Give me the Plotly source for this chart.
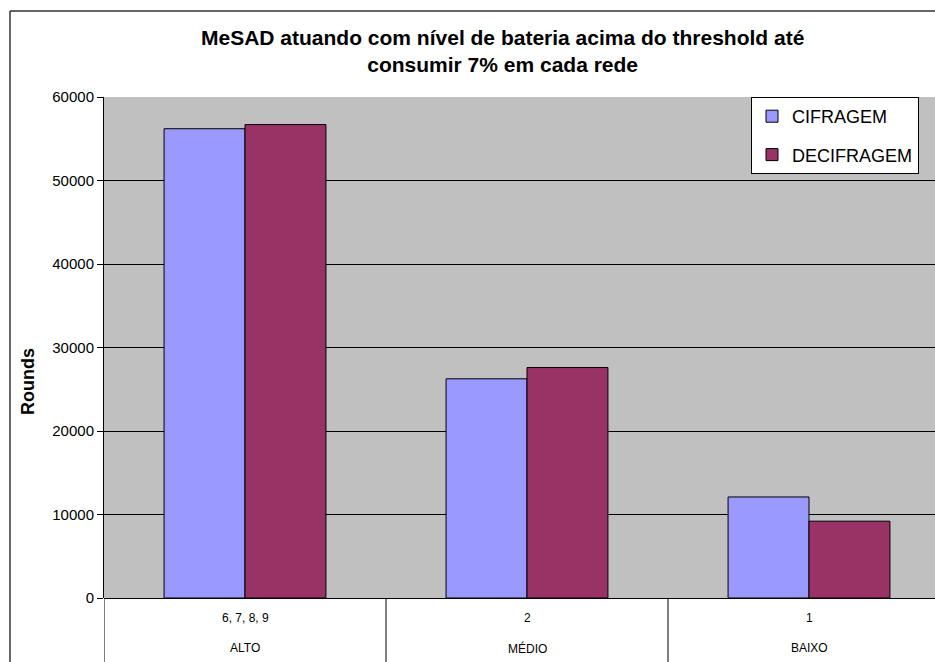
import plotly.graph_objects as go

# Battery level groups and the networks in each one
niveis = ["ALTO", "MÉDIO", "BAIXO"]
redes = ["6, 7, 8, 9", "2", "1"]

# Rounds reached per operation
cifragem = [56200, 26250, 12100]
decifragem = [56700, 27600, 9200]

y_ticks = [0, 10000, 20000, 30000, 40000, 50000, 60000]

W, H = 935, 662
L, T, B = 104, 97, 64
plot_w = W - L
plot_h = H - T - B

def px_x(px):
    return (px - L) / plot_w

def px_y(py):
    return (H - B - py) / plot_h

pos = list(range(len(niveis)))
font_family = "Liberation Sans, Arial, sans-serif"

fig = go.Figure()
fig.add_trace(go.Bar(
    x=pos, y=cifragem, name="CIFRAGEM", legendgroup="c",
    marker=dict(color="#9999FF", line=dict(color="#000000", width=1)),
))
fig.add_trace(go.Bar(
    x=pos, y=decifragem, name="DECIFRAGEM", legendgroup="d",
    marker=dict(color="#993366", line=dict(color="#000000", width=1)),
))

# Category separators and the outer chart frame
shapes = []
for i in range(len(niveis) + 1):
    shapes.append(dict(type="line", xref="x", yref="paper",
                       x0=i - 0.5, x1=i - 0.5, y0=0, y1=px_y(H + 2),
                       line=dict(color="#000000", width=1)))
shapes.append(dict(type="line", xref="paper", yref="paper",
                   x0=px_x(10), x1=px_x(10), y0=px_y(11), y1=px_y(H + 2),
                   line=dict(color="#333333", width=1.5)))
shapes.append(dict(type="line", xref="paper", yref="paper",
                   x0=px_x(10), x1=px_x(W + 2), y0=px_y(11), y1=px_y(11),
                   line=dict(color="#333333", width=1.5)))

annotations = []
for i, (rede, nivel) in enumerate(zip(redes, niveis)):
    annotations.append(dict(x=i, y=px_y(618), xref="x", yref="paper", text=rede,
                            xanchor="center", yanchor="middle",
                            showarrow=False, font=dict(size=12, color="#000000")))
    annotations.append(dict(x=i, y=px_y(648), xref="x", yref="paper", text=nivel,
                            xanchor="center", yanchor="middle",
                            showarrow=False, font=dict(size=12, color="#000000")))
annotations.append(dict(x=px_x(28), y=px_y(382), xref="paper", yref="paper",
                        text="<b>Rounds</b>", textangle=-90, showarrow=False,
                        xanchor="center", yanchor="middle",
                        font=dict(size=18, color="#000000")))
annotations.append(dict(x=px_x(502), y=px_y(51), xref="paper", yref="paper",
                        text="<b>MeSAD atuando com nível de bateria acima do threshold até<br>consumir 7% em cada rede</b>",
                        showarrow=False, align="center",
                        xanchor="center", yanchor="middle",
                        font=dict(size=21, color="#000000")))

fig.update_layout(
    width=W, height=H,
    margin=dict(l=L, r=0, t=T, b=B, pad=0),
    paper_bgcolor="#FFFFFF",
    plot_bgcolor="#C0C0C0",
    font=dict(family=font_family, color="#000000"),
    barmode="group",
    bargap=0.426,
    bargroupgap=0,
    showlegend=True,
    legend=dict(
        x=px_x(751), y=1, xanchor="left", yanchor="top",
        bgcolor="#FFFFFF", bordercolor="#000000", borderwidth=1,
        font=dict(size=18, color="#000000"),
        tracegroupgap=12, itemwidth=30,
    ),
    xaxis=dict(
        range=[-0.5, -0.5 + plot_w / 282.0],
        showticklabels=False, ticks="", showgrid=False,
        zeroline=False, showline=False,
    ),
    yaxis=dict(
        range=[0, 60000], tickvals=y_ticks, tickformat="d",
        ticks="outside", ticklen=6, tickcolor="#000000",
        tickfont=dict(size=15, color="#000000"),
        showgrid=True, gridcolor="#000000", gridwidth=1,
        showline=True, linecolor="#000000", linewidth=1,
        zeroline=True, zerolinecolor="#000000", zerolinewidth=1,
    ),
    shapes=shapes,
    annotations=annotations,
)

fig.write_html("out.html")
